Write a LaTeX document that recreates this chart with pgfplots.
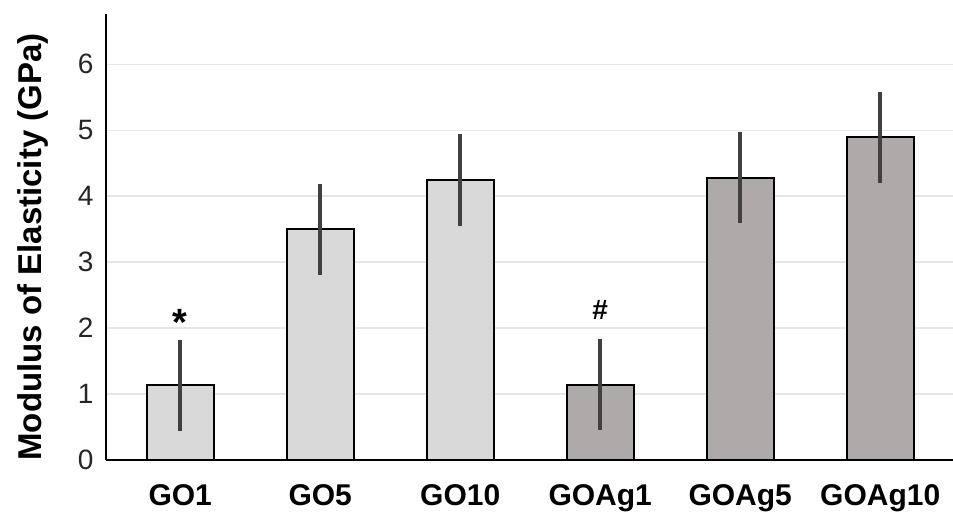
\documentclass[border=0pt]{standalone}
\usepackage{pgfplots}
\pgfplotsset{compat=1.18}
\usepackage{fontspec}
\setmainfont{Liberation Sans}
\definecolor{lightbar}{HTML}{D9D9D9}
\definecolor{darkbar}{HTML}{AEAAAA}
\definecolor{errc}{HTML}{404040}
\definecolor{gridc}{HTML}{E6E6E6}
\definecolor{tickc}{HTML}{262626}
\begin{document}
\begin{tikzpicture}
\begin{axis}[
  scale only axis,
  width=847pt, height=446pt,
  xmin=-0.53, xmax=5.52,
  ymin=0, ymax=6.76,
  axis x line=bottom, axis y line=left,
  axis line style={-, line width=2.5pt, black},
  xtick={0,1,2,3,4,5},
  xticklabels={GO1,GO5,GO10,GOAg1,GOAg5,GOAg10},
  ytick={0,1,2,3,4,5,6},
  major tick length=0pt,
  ymajorgrids,
  grid style={gridc, line width=1.2pt},
  /pgf/number format/assume math mode=true,
  x tick label style={font=\fontsize{30}{36}\selectfont\bfseries, yshift=-21pt},
  y tick label style={font=\fontsize{28}{34}\selectfont, text=tickc, xshift=-9pt},
  ylabel={Modulus of Elasticity (GPa)},
  ylabel style={font=\fontsize{33}{39}\selectfont\bfseries, at={(axis description cs:-0.0756,0.4776)}, anchor=base, rotate=0},
  ybar, bar width=67pt, bar shift=0pt,
  error bars/error bar style={line width=4pt, errc},
  error bars/error mark=none,
  clip=false,
]
\addplot[fill=lightbar, draw=black, line width=2pt,
  error bars/.cd, y dir=both, y explicit]
  coordinates {(0,1.13) +- (0,0.69) (1,3.50) +- (0,0.69) (2,4.24) +- (0,0.70)};
\addplot[fill=darkbar, draw=black, line width=2pt,
  error bars/.cd, y dir=both, y explicit]
  coordinates {(3,1.14) +- (0,0.69) (4,4.28) +- (0,0.69) (5,4.89) +- (0,0.69)};
\node[anchor=base, font=\fontsize{38}{44}\selectfont\bfseries] at (axis cs:0,1.88) {*};
\node[anchor=base, font=\fontsize{28}{32}\selectfont\bfseries] at (axis cs:3,2.13) {\#};
\coordinate (O) at (rel axis cs:0,0);
\end{axis}
\pgfresetboundingbox
\path[use as bounding box] ([shift={(-106pt,-54pt)}]O) rectangle ([shift={(847pt,460pt)}]O);
\end{tikzpicture}
\end{document}
